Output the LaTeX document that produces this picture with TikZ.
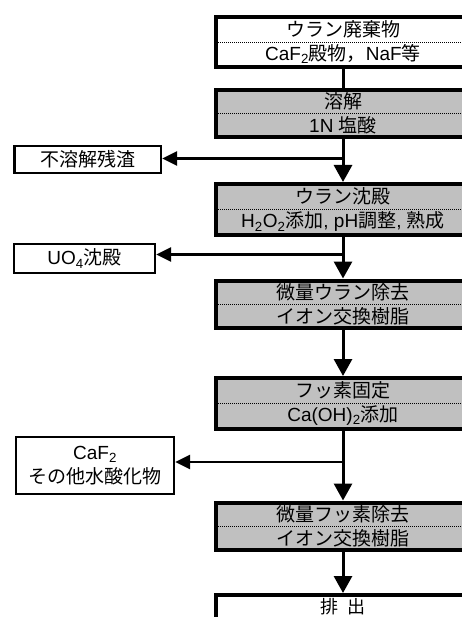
\documentclass[tikz,border=0pt]{standalone}
\usepackage{fontspec}
\setmainfont{Liberation Sans}
\newfontfamily\jp{Noto Sans CJK JP}
\usetikzlibrary{arrows.meta}
\definecolor{boxgray}{RGB}{192,192,192}
\newcommand\diagfont{\fontsize{19}{24}\selectfont}
\begin{document}
\begin{tikzpicture}[x=1pt,y=-1pt,
  mainbox/.style={draw, line width=4pt, fill=boxgray, minimum width=254pt, inner sep=0pt,
    align=center, font=\diagfont,
    path picture={\draw[line width=1pt, dash pattern=on 1pt off 1pt]
      (path picture bounding box.west) -- (path picture bounding box.east);}},
  whitebox/.style={mainbox, fill=white},
  sidebox/.style={draw, line width=2.3pt, fill=white, inner sep=0pt, align=center, font=\diagfont},
  mainline/.style={line width=3pt},
  mainarrow/.style={line width=3pt, -{Triangle[length=17pt,width=18pt]}},
  sidearrow/.style={line width=2.8pt, -{Triangle[length=15pt,width=14pt]}},
  ]
\useasboundingbox (0,0) rectangle (462,617);
\clip (0,0) rectangle (462,617);

% main column
\node[whitebox, minimum height=50.5pt] (box1) at (343,42.25)
  {{\jp ウラン廃棄物}\\CaF\textsubscript{2}{\jp 殿物，}NaF{\jp 等}};
\node[mainbox, minimum height=46.5pt] (box2) at (343,113.75)
  {{\jp 溶解}\\1N {\jp 塩酸}};
\node[mainbox, minimum height=51.5pt] (box3) at (343,209.75)
  {{\jp ウラン沈殿}\\H\textsubscript{2}O\textsubscript{2}{\jp 添加}, pH{\jp 調整}, {\jp 熟成}};
\node[mainbox, minimum height=47pt] (box4) at (343,304)
  {{\jp 微量ウラン除去}\\{\jp イオン交換樹脂}};
\node[mainbox, minimum height=51pt] (box5) at (343,403.5)
  {{\jp フッ素固定}\\Ca(OH)\textsubscript{2}{\jp 添加}};
\node[mainbox, minimum height=47.5pt] (box6) at (343,526.25)
  {{\jp 微量フッ素除去}\\{\jp イオン交換樹脂}};
\node[draw, line width=4pt, fill=white, minimum width=254pt, minimum height=45pt, inner sep=0pt]
  (box7) at (343,617.5) {};
\node[font=\fontsize{18}{22}\selectfont\jp, inner sep=0pt] (outtext) at (343,606.5) {排\hspace{0.45em}出};

% side boxes
\node[sidebox, minimum width=146.5pt, minimum height=27pt] (res1) at (87.75,159.5) {{\jp 不溶解残渣}};
\node[sidebox, minimum width=141pt, minimum height=29pt] (uo4) at (84.5,258.5) {UO\textsubscript{4}{\jp 沈殿}};
\node[sidebox, minimum width=158pt, minimum height=57pt] (caf) at (95,465.5) {CaF\textsubscript{2}\\{\jp その他水酸化物}};

% connectors
\coordinate (b1) at (343,158.5);
\coordinate (b2) at (343,254.5);
\coordinate (b3) at (343,462);

\draw[mainline] (box1) -- (box2);
\draw[mainarrow] (box2) -- (box3);
\draw[sidearrow] (b1) -- (b1 -| res1.east);
\draw[mainarrow] (box3) -- (box4);
\draw[sidearrow] (b2) -- (b2 -| uo4.east);
\draw[mainarrow] (box4) -- (box5);
\draw[mainarrow] (box5) -- (box6);
\draw[sidearrow] (b3) -- (b3 -| caf.east);
\draw[mainarrow] (box6) -- (box7);
\end{tikzpicture}
\end{document}
